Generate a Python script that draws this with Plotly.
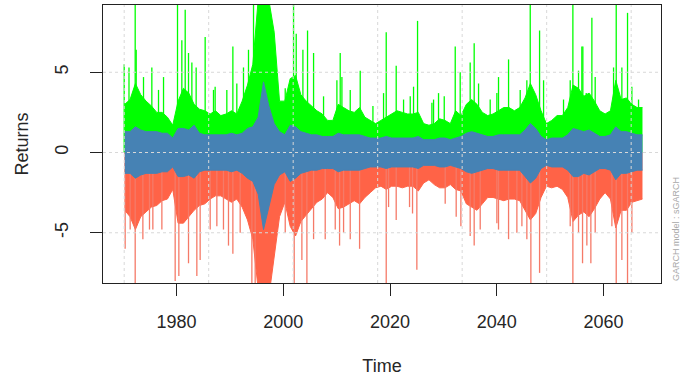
import plotly.graph_objects as go

# ---- data -------------------------------------------------------------
years = list(range(1970, 2068))   # yearly samples

# upper band (solid part), per year
green_body = [
    3.0, 3.3, 4.3, 3.6, 3.2, 2.9, 2.5, 2.5, 2.2, 1.7,
    3.2, 4.0, 3.7, 3.0, 2.7, 2.6, 2.4, 2.6, 2.3, 2.4,
    2.6, 2.4, 3.2, 4.2, 5.5, 9.5, 9.5, 9.5, 7.5, 3.2,
    3.2, 4.6, 4.8, 3.6, 3.2, 2.9, 2.6, 2.4, 2.0, 2.0,
    3.0, 2.8, 2.6, 2.5, 2.8, 2.2, 2.0, 1.8, 2.0, 2.2,
    2.4, 2.6, 2.5, 2.4, 2.4, 2.5, 1.8, 1.7, 1.8, 2.1,
    2.0, 1.8, 2.6, 2.3, 3.0, 3.3, 3.0, 2.5, 2.3, 2.4,
    2.6, 2.8, 2.8, 2.6, 2.8, 3.4, 4.3, 3.6, 2.6, 1.8,
    2.0, 2.3, 2.3, 2.8, 4.2, 4.0, 3.5, 3.7, 3.2, 2.6,
    2.4, 2.6, 4.5, 3.3, 3.4, 3.0, 2.8, 2.8,
]

# lower band (solid part), per year
red_body = [
    -3.6, -4.0, -4.8, -4.0, -3.7, -3.4, -3.3, -3.0, -2.9, -2.3,
    -4.4, -4.4, -4.0, -3.6, -3.3, -3.2, -2.9, -2.7, -2.7, -2.9,
    -3.1, -2.9, -3.4, -4.2, -5.4, -8.5, -9.0, -9.0, -6.5, -4.0,
    -3.1, -4.6, -5.2, -4.3, -3.9, -3.5, -3.1, -2.9, -2.5, -2.8,
    -3.5, -3.4, -3.2, -3.0, -3.2, -2.8, -2.5, -2.2, -2.1, -2.3,
    -2.1, -2.1, -2.2, -2.1, -2.1, -2.4, -1.9, -1.7, -2.0, -2.2,
    -2.2, -2.0, -2.3, -2.4, -3.2, -3.4, -3.6, -3.2, -2.8, -2.8,
    -2.9, -3.0, -2.9, -2.9, -3.0, -3.6, -4.2, -3.8, -2.8, -2.1,
    -2.2, -2.1, -2.3, -2.8, -4.3, -3.9, -3.7, -4.0, -3.5, -2.9,
    -2.5, -2.9, -4.7, -3.6, -3.6, -3.1, -3.0, -2.9,
]

# returns envelope, per year
blue_hi = [
    1.3, 1.3, 1.6, 1.4, 1.3, 1.3, 1.3, 1.2, 1.2, 0.9,
    1.5, 1.5, 1.4, 1.7, 1.2, 1.1, 1.1, 1.1, 1.1, 1.1,
    1.2, 1.1, 1.2, 1.5, 1.6, 2.2, 4.4, 2.9, 1.8, 1.3,
    1.1, 1.7, 1.6, 1.3, 1.2, 1.1, 1.1, 1.0, 1.0, 1.0,
    1.2, 1.1, 1.1, 1.1, 1.1, 1.0, 0.9, 0.9, 0.9, 1.0,
    0.9, 0.9, 0.9, 0.9, 0.9, 1.0, 0.8, 0.8, 0.8, 0.9,
    0.9, 0.8, 0.9, 1.0, 1.2, 1.3, 1.2, 1.1, 1.0, 1.0,
    1.1, 1.1, 1.1, 1.1, 1.1, 1.4, 1.8, 1.5, 1.0, 0.8,
    0.9, 0.9, 0.9, 1.1, 1.5, 1.4, 1.3, 1.4, 1.2, 1.0,
    1.0, 1.1, 1.6, 1.3, 1.3, 1.2, 1.1, 1.1,
]
blue_lo = [
    -1.3, -1.3, -1.6, -1.4, -1.3, -1.3, -1.3, -1.2, -1.2, -0.9,
    -1.5, -1.5, -1.4, -1.6, -1.2, -1.1, -1.1, -1.1, -1.1, -1.1,
    -1.2, -1.1, -1.3, -1.6, -1.8, -2.6, -4.8, -3.4, -2.0, -1.4,
    -1.2, -1.8, -1.6, -1.3, -1.2, -1.1, -1.1, -1.0, -1.0, -1.0,
    -1.2, -1.1, -1.1, -1.1, -1.1, -1.0, -0.9, -0.9, -0.9, -1.0,
    -0.9, -0.9, -0.9, -0.9, -0.9, -1.0, -0.8, -0.8, -0.8, -0.9,
    -0.9, -0.8, -0.9, -1.0, -1.2, -1.3, -1.2, -1.1, -1.0, -1.0,
    -1.1, -1.1, -1.1, -1.1, -1.1, -1.5, -1.9, -1.6, -1.0, -0.8,
    -0.9, -0.9, -0.9, -1.1, -1.5, -1.5, -1.3, -1.4, -1.2, -1.0,
    -1.0, -1.1, -1.7, -1.3, -1.3, -1.2, -1.1, -1.1,
]

# isolated spikes of the upper band
green_spike_t = [
    1970.2, 1971.1, 1972.26, 1972.45, 1973.82, 1975.38, 1976.63, 1977.57,
    1980.19, 1981.0, 1981.63, 1982.25, 1982.88, 1983.68, 1985.37, 1986.93,
    1987.24, 1989.43, 1990.56, 1991.3, 1992.55, 1993.49, 1994.43,
    2000.37, 2001.93, 2002.43, 2003.68, 2004.55, 2005.68, 2007.55, 2010.05,
    2010.67, 2010.99, 2012.55, 2014.42, 2016.8, 2018.79, 2019.29, 2021.16,
    2022.54, 2023.79, 2024.41, 2025.16, 2027.85, 2028.16, 2029.09, 2030.16,
    2032.22, 2033.15, 2035.02, 2035.77, 2036.59, 2038.77, 2040.02, 2040.33,
    2042.21, 2044.39, 2045.64, 2046.27, 2048.02, 2048.77, 2052.51, 2053.76,
    2054.26, 2055.32, 2055.94, 2056.13, 2056.76, 2057.82, 2058.44, 2061.88,
    2062.38, 2063.44, 2064.5, 2065.31, 2066.56,
]
green_spike_v = [
    5.5, 5.3, 9.5, 6.4, 4.7, 5.3, 3.9, 4.7,
    9.5, 7.0, 8.9, 6.2, 5.6, 5.3, 7.2, 3.9,
    4.1, 3.9, 6.6, 4.3, 5.3, 6.4, 9.5,
    4.0, 9.5, 7.4, 6.4, 7.6, 6.2, 3.5, 4.5,
    6.2, 4.7, 3.9, 5.1, 2.9, 3.7, 7.5, 5.4,
    3.3, 3.5, 4.1, 8.2, 3.1, 3.3, 3.7, 3.5,
    6.6, 5.0, 5.6, 6.8, 4.3, 3.3, 3.7, 4.7,
    5.8, 3.9, 4.5, 9.5, 7.6, 4.5, 3.3, 4.5,
    9.5, 5.1, 6.6, 6.6, 3.7, 8.4, 4.7, 5.3,
    9.5, 5.3, 8.7, 4.1, 3.3,
]

# isolated spikes of the lower band
red_spike_t = [
    1970.38, 1971.32, 1972.26, 1973.7, 1974.94, 1975.57, 1977.26, 1979.75,
    1980.44, 1982.25, 1983.81, 1984.43, 1986.31, 1987.56, 1988.8, 1989.74,
    1990.56, 1991.93, 1994.12, 1994.74,
    2000.37, 2002.05, 2003.49, 2004.43, 2005.68, 2007.86, 2009.74, 2010.55,
    2011.3, 2012.55, 2014.3, 2019.29, 2019.73, 2021.16, 2023.66, 2024.22,
    2025.03, 2030.34, 2032.4, 2033.28, 2035.02, 2035.77, 2036.9, 2040.02,
    2040.33, 2042.21, 2043.77, 2044.71, 2045.64, 2046.39, 2048.02, 2053.76,
    2054.26, 2055.32, 2056.07, 2056.88, 2057.63, 2058.44, 2061.57, 2062.38,
    2063.44, 2064.5, 2065.31,
]
red_spike_v = [
    -6.0, -4.8, -8.3, -5.4, -4.8, -4.8, -4.8, -8.0,
    -7.7, -6.9, -7.7, -6.7, -4.8, -4.6, -4.8, -5.8,
    -6.3, -5.0, -8.3, -8.3,
    -5.0, -8.3, -6.7, -8.3, -5.4, -5.4, -4.8, -5.8,
    -5.0, -5.4, -6.0, -8.3, -3.4, -4.2, -3.4, -3.8,
    -7.3, -3.2, -4.0, -4.6, -5.2, -5.8, -4.8, -4.4,
    -4.8, -5.4, -5.0, -4.6, -5.4, -8.3, -7.5, -4.6,
    -8.3, -5.0, -6.9, -5.8, -6.9, -5.0, -4.6, -8.3,
    -6.7, -8.3, -5.0,
]

x_ticks = [1980, 2000, 2020, 2040, 2060]
y_ticks = [-5, 0, 5]
y_tick_text = ["-5", "0", "5"]

# ---- styling -----------------------------------------------------------
GREEN = "#00FF00"
RED = "#FF6347"
BLUE = "#4682B4"
FONT = "Liberation Sans, Arial, sans-serif"
TXT = "#262626"
SAMPLE_OFFSET = 0.3          # position of each yearly sample inside its year
GRID_START, GRID_STEP, GRID_N = 1970.2, 15.83, 7

t = [y + SAMPLE_OFFSET for y in years]


def spikes(ts, vs):
    xs, ys = [], []
    for a, b in zip(ts, vs):
        xs += [a, a, None]
        ys += [0, b, None]
    return xs, ys


fig = go.Figure()

# upper band
fig.add_trace(go.Scatter(x=t, y=green_body, mode="lines", fill="tozeroy",
                         fillcolor=GREEN, line=dict(color=GREEN, width=1),
                         hoverinfo="skip"))
gx, gy = spikes(green_spike_t, green_spike_v)
fig.add_trace(go.Scatter(x=gx, y=gy, mode="lines",
                         line=dict(color=GREEN, width=1.3), hoverinfo="skip"))

# lower band
fig.add_trace(go.Scatter(x=t, y=red_body, mode="lines", fill="tozeroy",
                         fillcolor=RED, line=dict(color=RED, width=1),
                         hoverinfo="skip"))
rx, ry = spikes(red_spike_t, red_spike_v)
fig.add_trace(go.Scatter(x=rx, y=ry, mode="lines",
                         line=dict(color="#F57A68", width=1.3), hoverinfo="skip"))

# returns
fig.add_trace(go.Scatter(x=t, y=blue_lo, mode="lines",
                         line=dict(color=BLUE, width=1), hoverinfo="skip"))
fig.add_trace(go.Scatter(x=t, y=blue_hi, mode="lines", fill="tonexty",
                         fillcolor=BLUE, line=dict(color=BLUE, width=1),
                         hoverinfo="skip"))

# dotted grid drawn over the data
shapes = []
for yv in y_ticks:
    shapes.append(dict(type="line", xref="paper", x0=0, x1=1, yref="y",
                       y0=yv, y1=yv, layer="above",
                       line=dict(color="#D8D8D8", width=1, dash="dot")))
for k in range(GRID_N):
    xv = GRID_START + k * GRID_STEP
    shapes.append(dict(type="line", xref="x", x0=xv, x1=xv, yref="paper",
                       y0=0, y1=1, layer="above",
                       line=dict(color="#D8D8D8", width=1, dash="dot")))

fig.update_layout(
    width=693, height=383,
    margin=dict(l=103, r=32, t=5, b=100),
    paper_bgcolor="white", plot_bgcolor="white",
    showlegend=False,
    font=dict(family=FONT, size=18, color=TXT),
    shapes=shapes,
    xaxis=dict(range=[1966.23, 2070.77], tickvals=x_ticks,
               ticks="outside", ticklen=12, tickcolor="#222", tickwidth=1,
               ticklabelstandoff=10,
               showline=True, mirror=True, linecolor="#222", linewidth=1,
               showgrid=False, zeroline=False,
               tickfont=dict(family=FONT, size=18, color=TXT),
               title=dict(text="Time", font=dict(family=FONT, size=18, color=TXT),
                          standoff=28)),
    yaxis=dict(range=[-8.13, 9.19], tickvals=y_ticks, ticktext=y_tick_text,
               tickangle=-90,
               ticks="outside", ticklen=12, tickcolor="#222", tickwidth=1,
               ticklabelstandoff=15,
               showline=True, mirror=True, linecolor="#222", linewidth=1,
               showgrid=False, zeroline=False,
               tickfont=dict(family=FONT, size=18, color=TXT),
               title=dict(text="Returns", font=dict(family=FONT, size=18, color=TXT),
                          standoff=18)),
    annotations=[dict(text="GARCH model : sGARCH", xref="paper", yref="paper",
                      x=1.027, y=0, xanchor="center", yanchor="bottom",
                      textangle=-90, showarrow=False,
                      font=dict(family=FONT, size=9, color="#A8A8A8"))],
)

fig.write_html("out.html")
